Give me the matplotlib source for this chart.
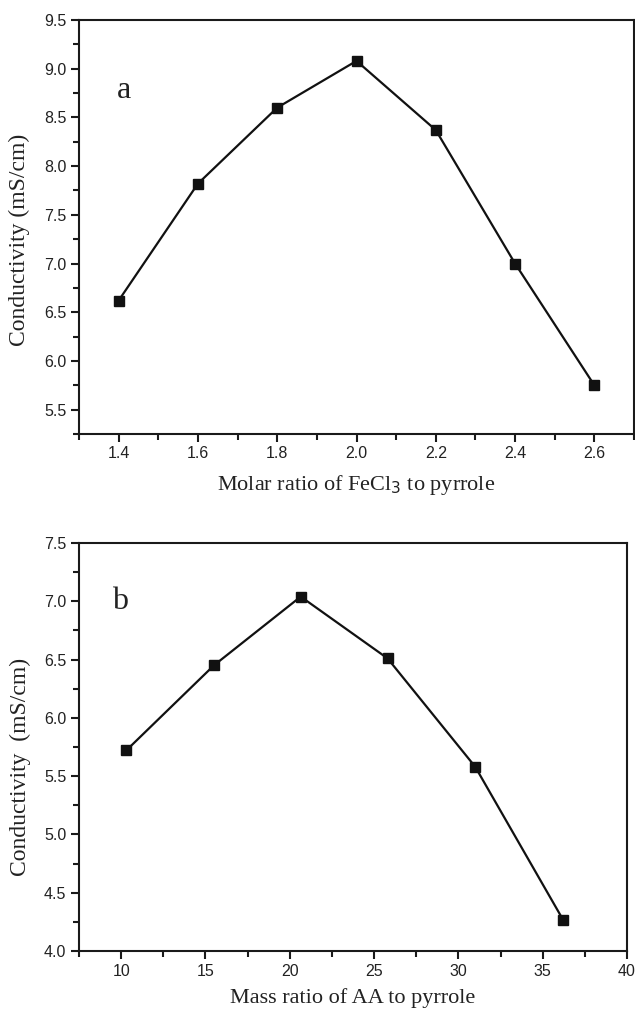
import matplotlib.pyplot as plt
from matplotlib.ticker import MultipleLocator

# conductivity vs. FeCl3 / pyrrole molar ratio
fecl3_ratio = [1.4, 1.6, 1.8, 2.0, 2.2, 2.4, 2.6]
cond_a = [6.62, 7.82, 8.60, 9.08, 8.37, 7.00, 5.75]

# conductivity vs. AA / pyrrole mass ratio
aa_ratio = [10.3, 15.5, 20.65, 25.8, 31.0, 36.2]
cond_b = [5.72, 6.45, 7.04, 6.51, 5.58, 4.27]

serif = ['Liberation Serif', 'DejaVu Serif']
sans = ['Liberation Sans', 'DejaVu Sans']
ink = '#1a1a1a'

fig = plt.figure(figsize=(6.35, 10.14), dpi=100)
ax1 = fig.add_axes([79/635, 1 - 434/1014, (634 - 79)/635, (434 - 20)/1014])
ax2 = fig.add_axes([79/635, 1 - 951/1014, (627 - 79)/635, (951 - 543)/1014])


def style(ax):
    for s in ax.spines.values():
        s.set_linewidth(1.5)
        s.set_color(ink)
    ax.tick_params(which='both', direction='out', top=False, right=False, width=1.5, color=ink)
    ax.tick_params(which='major', length=6, labelsize=11.5, pad=3)
    ax.tick_params(which='minor', length=4)
    for lab in ax.get_xticklabels() + ax.get_yticklabels():
        lab.set_family(sans)
        lab.set_color('#222222')


ax1.plot(fecl3_ratio, cond_a, color='#111111', lw=1.6, marker='s', ms=6.5, mfc='#111111', mec='#111111')
ax1.set_xlim(1.3, 2.7)
ax1.set_ylim(5.25, 9.5)
ax1.xaxis.set_major_locator(MultipleLocator(0.2))
ax1.xaxis.set_minor_locator(MultipleLocator(0.1))
ax1.yaxis.set_major_locator(MultipleLocator(0.5))
ax1.yaxis.set_minor_locator(MultipleLocator(0.25))
ax1.xaxis.set_major_formatter(lambda v, p: f'{v:.1f}')
ax1.yaxis.set_major_formatter(lambda v, p: f'{v:.1f}')
style(ax1)
ax1.set_xlabel(r'Molar ratio of FeCl$_3$ to pyrrole', family=serif, fontsize=16, color='#222222')
ax1.set_ylabel('Conductivity (mS/cm)', family=serif, fontsize=17, color='#222222')
ax1.xaxis.set_label_coords(0.5, -0.093)
ax1.yaxis.set_label_coords(-0.088, 0.47)
ax1.text(1.395, 8.70, 'a', family=serif, fontsize=23, color='#222222', va='baseline')

ax2.plot(aa_ratio, cond_b, color='#111111', lw=1.6, marker='s', ms=6.5, mfc='#111111', mec='#111111')
ax2.set_xlim(7.5, 40)
ax2.set_ylim(4.0, 7.5)
ax2.xaxis.set_major_locator(MultipleLocator(5))
ax2.xaxis.set_minor_locator(MultipleLocator(2.5))
ax2.yaxis.set_major_locator(MultipleLocator(0.5))
ax2.yaxis.set_minor_locator(MultipleLocator(0.25))
ax2.yaxis.set_major_formatter(lambda v, p: f'{v:.1f}')
style(ax2)
ax2.set_xlabel('Mass ratio of AA to pyrrole', family=serif, fontsize=16, color='#222222')
ax2.set_ylabel('Conductivity  (mS/cm)', family=serif, fontsize=17, color='#222222')
ax2.xaxis.set_label_coords(0.5, -0.092)
ax2.yaxis.set_label_coords(-0.088, 0.45)
ax2.text(9.45, 6.93, 'b', family=serif, fontsize=23, color='#222222', va='baseline')

fig.savefig('out.png', dpi=100)
